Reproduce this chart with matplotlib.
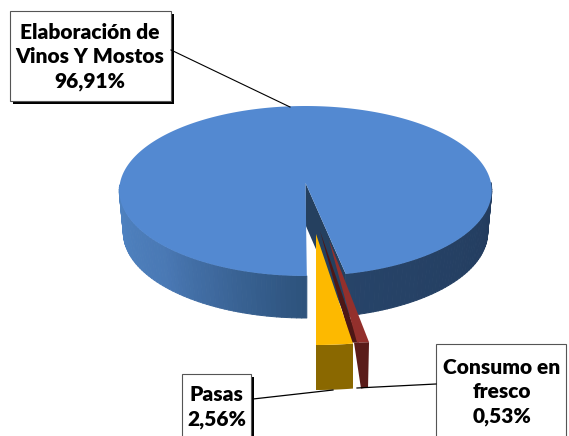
import numpy as np
import matplotlib.pyplot as plt
from matplotlib.collections import PolyCollection
from matplotlib.colors import LinearSegmentedColormap
from matplotlib.patches import Polygon, Rectangle

# Data
categories = ["Elaboración de\nVinos Y Mostos", "Pasas", "Consumo en\nfresco"]
values = [96.91, 2.56, 0.53]
value_labels = ["96,91%", "2,56%", "0,53%"]

DEPTH = 42
sweeps = [v * 3.6 for v in values]


def rim(theta, cx, cy, rx, ry, persp=0, front=0):
    # angle 0 points at the viewer, grows towards the right
    t = np.radians(theta)
    c = np.cos(t)
    return cx + rx * np.sin(t) * (1 + front * c), cy + ry * c + persp * c ** 2


fig = plt.figure(figsize=(5.69, 4.36), dpi=100, facecolor='white')
ax = fig.add_axes([0, 0, 1, 1])
ax.set_xlim(0, 569)
ax.set_ylim(436, 0)
ax.axis('off')

# Big slice
big = dict(cx=305.5, cy=183, rx=185.5, ry=85, persp=8, front=0.09)
start = 11.5
theta = np.linspace(start, start + sweeps[0], 240)
x, y = rim(theta, **big)
x_low = big['cx'] + (x - big['cx']) * 0.978  # bottom rim is a bit narrower
y_low = y + DEPTH

# outer wall as a gradient, only the part facing the viewer
side_cmap = LinearSegmentedColormap.from_list(
    'side', ['#233c5e', '#2f5580', '#4a79b5', '#5085c4'])
quads, shades = [], []
for i in range(len(theta) - 1):
    t = theta[i] % 360
    if 90 < t < 270:
        continue
    quads.append([(x[i], y[i]), (x[i + 1], y[i + 1]),
                  (x_low[i + 1], y_low[i + 1]), (x_low[i], y_low[i])])
    if t <= 90:
        shades.append(0.12 - t / 90 * 0.12)
    else:
        shades.append(0.3 + (360 - t) / 90 * 0.7)
ax.add_collection(PolyCollection(quads, array=np.array(shades), cmap=side_cmap,
                                 clim=(0, 1), edgecolors='face', linewidths=0.7))

# cut wall on the right of the gap
ax.add_patch(Polygon([(big['cx'], big['cy']), (x[0], y[0]), (x_low[0], y_low[0]),
                      (big['cx'], big['cy'] + DEPTH)], color='#25405f', lw=0))
ax.add_patch(Polygon(np.r_[[[big['cx'], big['cy']]], np.c_[x, y]], color='#5389d1', lw=0))

# Consumo en fresco
cx, cy, rx, ry = 326, 232, 363, 111
a = np.linspace(4.9, 4.9 + sweeps[2], 10)
x3, y3 = rim(a, cx, cy, rx, ry)
ax.add_patch(Polygon([(320, 231), (x3[0] - 6, y3[0]), (x3[0] + 2, y3[0])],
                     color='#4d1715', lw=0))
ax.add_patch(Polygon([(x3[0] - 3, y3[0]), (x3[-1], y3[-1]),
                      (x3[-1] - 1, y3[-1] + 45), (x3[0] + 4, y3[0] + 46)],
                     color='#5a1c1a', lw=0))
ax.add_patch(Polygon(np.r_[[[cx + 3, cy + 8]], np.c_[x3, y3]], color='#93302c', lw=0))

# Pasas
cx, cy, rx, ry = 316, 234, 231, 111
a = np.linspace(0, sweeps[1], 10)
x2, y2 = rim(a, cx, cy, rx, ry)
ax.add_patch(Polygon(np.r_[np.c_[x2, y2], np.c_[x2[::-1], y2[::-1] + 45]],
                     color='#8a6800', lw=0))
ax.add_patch(Polygon(np.r_[[[cx, cy]], np.c_[x2, y2]], color='#fdb900', lw=0))

# Leader lines
ax.plot([171, 290], [50, 107], color='black', lw=0.8)
ax.plot([253, 333], [399, 390], color='black', lw=0.9)
ax.plot([357, 436], [388, 384], color='black', lw=0.9)

# Label boxes
boxes = [(10, 11, 161, 90, 3), (182, 374, 69, 70, 3), (436, 344, 130, 100, 0)]
centers = [(90, 57), (216.5, 407), (502, 392)]
for i in range(3):
    bx, by, bw, bh, sh = boxes[i]
    if sh:
        ax.add_patch(Rectangle((bx + sh, by + sh), bw, bh, color='black', lw=0))
    ax.add_patch(Rectangle((bx, by), bw, bh, fc='white', ec='#555555', lw=0.8))
    ax.text(centers[i][0], centers[i][1], categories[i] + "\n" + value_labels[i],
            ha='center', va='center', family='Lato', fontweight='heavy',
            fontsize=15, linespacing=1.32, color='black')

fig.savefig('out.png', dpi=100, facecolor='white')
